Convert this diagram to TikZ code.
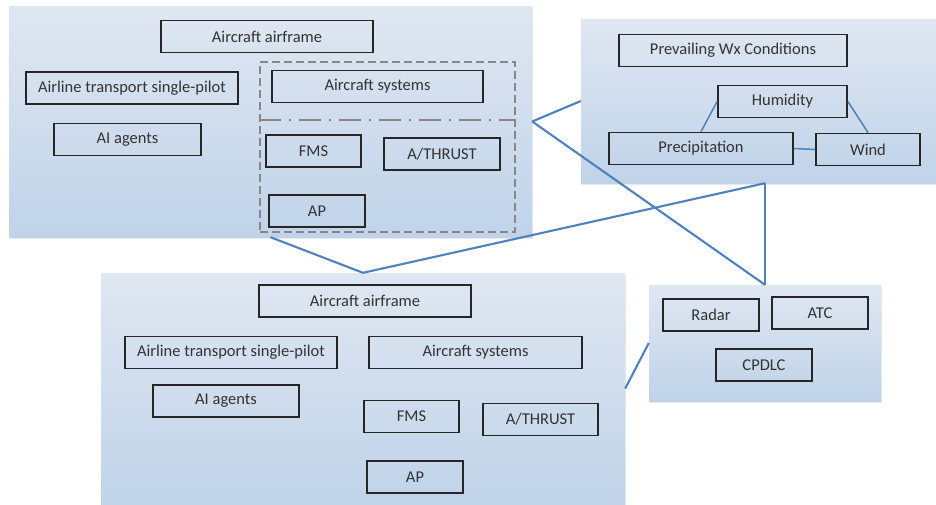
\documentclass[tikz,border=0pt]{standalone}
\usepackage{fontspec}
\setmainfont{Carlito}
\usetikzlibrary{shadows}

\definecolor{panelTop}{RGB}{223,231,242}
\definecolor{panelBot}{RGB}{192,211,233}
\definecolor{linkBlue}{RGB}{79,129,189}
\definecolor{boxLine}{RGB}{38,38,38}
\definecolor{frameGray}{RGB}{135,135,135}

\tikzstyle{panel} = [rectangle, inner sep=0pt, top color=panelTop, bottom color=panelBot, draw=none,
    drop shadow={opacity=0.18, shadow xshift=1.2pt, shadow yshift=-1.5pt}]
\tikzstyle{item} = [rectangle, draw=boxLine, line width=1.8pt, minimum height=32pt, inner sep=0pt,
    text=black!80, font=\fontsize{16.5}{18}\selectfont]
\tikzstyle{link} = [draw=linkBlue, line width=2.1pt]
\tikzstyle{sysframe} = [draw=frameGray, line width=2pt, dash pattern=on 8pt off 4pt]

\begin{document}
\begin{tikzpicture}[x=1pt, y=-1pt]
\useasboundingbox (0,0) rectangle (936,504);

\node[panel, minimum width=523pt, minimum height=231pt] (cockpit) at (270.5,121.5) {};
\node[panel, minimum width=355pt, minimum height=164pt] (wx) at (758.5,101) {};
\node[panel, minimum width=524pt, minimum height=231pt] (aircraft) at (363,388.5) {};
\node[panel, minimum width=232pt, minimum height=116pt] (ground) at (765,343) {};

\node[sysframe, minimum width=255pt, minimum height=170pt, inner sep=0pt] (sysgroup) at (387.5,147) {};
\draw[draw=frameGray, line width=2pt, dash pattern=on 22pt off 8pt on 2pt off 8pt]
    (sysgroup.west |- 0,120) -- (sysgroup.east |- 0,120);

\node[item, minimum width=212pt] (airframeA) at (267,36.5) {Aircraft airframe};
\node[item, minimum width=212pt] (pilotA) at (132,88) {Airline transport single-pilot};
\node[item, minimum width=147pt] (agentsA) at (127.5,139.5) {AI agents};
\node[item, minimum width=211pt] (systemsA) at (377.5,86.5) {Aircraft systems};
\node[item, minimum width=95pt] (fmsA) at (313.5,151) {FMS};
\node[item, minimum width=116pt] (thrustA) at (442,154) {A/THRUST};
\node[item, minimum width=96pt] (apA) at (317,211) {AP};

\node[item, minimum width=228pt] (prevail) at (733,50.5) {Prevailing Wx Conditions};
\node[item, minimum width=129pt] (humid) at (782.5,101.5) {Humidity};
\node[item, minimum width=184pt] (precip) at (701,148.5) {Precipitation};
\node[item, minimum width=104pt] (wind) at (868,149.5) {Wind};

\node[item, minimum width=212pt] (airframeB) at (365,301) {Aircraft airframe};
\node[item, minimum width=212pt] (pilotB) at (231,352.5) {Airline transport single-pilot};
\node[item, minimum width=213pt] (systemsB) at (475.5,352.5) {Aircraft systems};
\node[item, minimum width=146pt] (agentsB) at (226,401) {AI agents};
\node[item, minimum width=95pt] (fmsB) at (411.5,416.5) {FMS};
\node[item, minimum width=115pt] (thrustB) at (540.5,419.5) {A/THRUST};
\node[item, minimum width=96pt] (apB) at (415,477) {AP};

\node[item, minimum width=96pt] (radar) at (711,315) {Radar};
\node[item, minimum width=96pt] (atc) at (820,313) {ATC};
\node[item, minimum width=96pt] (cpdlc) at (764,365) {CPDLC};

\draw[link, line width=1.5pt] (humid.west) -- (precip.north);
\draw[link, line width=1.5pt] (humid.east) -- (wind.north);
\draw[link, line width=1.5pt] (precip.east) -- (wind.west);

\draw[link] (cockpit.east) -- (wx.west);
\draw[link] (cockpit.east) -- (ground.north);
\draw[link] (ground.north) -- (ground.north |- wx.south);
\draw[link] (cockpit.south) -- (aircraft.north);
\draw[link] (aircraft.north) -- (ground.north |- wx.south);
\draw[link] (aircraft.east) -- (ground.west);
\end{tikzpicture}
\end{document}
